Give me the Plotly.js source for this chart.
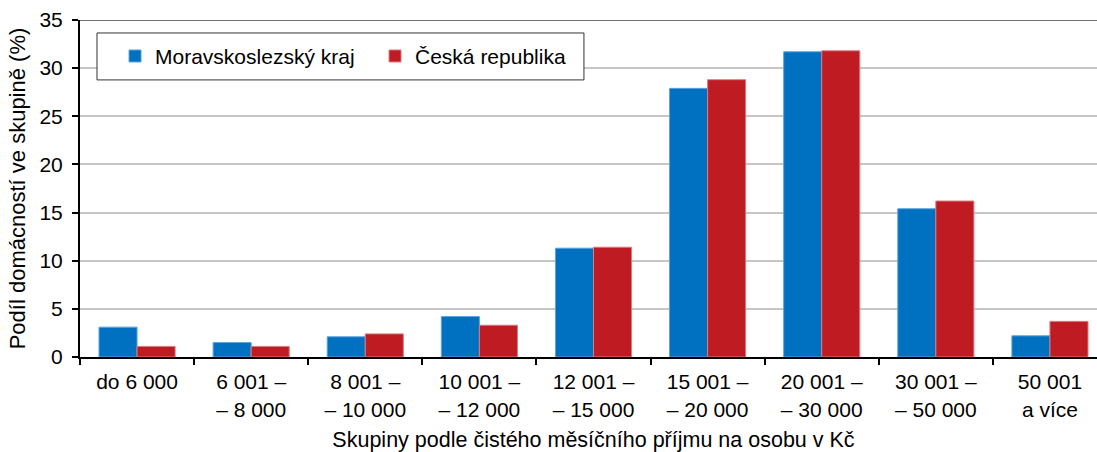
<!DOCTYPE html>
<html>
<head>
<meta charset="utf-8">
<script src="https://cdn.plot.ly/plotly-3.0.1.min.js"></script>
<style>
html,body{margin:0;padding:0;overflow:hidden;background:#fff;}
#chart{width:1110px;height:452px;}
</style>
</head>
<body>
<div id="chart"></div>
<script>
const categories = [
  "do 6 000",
  "6 001 –<br>– 8 000",
  "8 001 –<br>– 10 000",
  "10 001 –<br>– 12 000",
  "12 001 –<br>– 15 000",
  "15 001 –<br>– 20 000",
  "20 001 –<br>– 30 000",
  "30 001 –<br>– 50 000",
  "50 001<br>a více"
];
const seriesNames = ["Moravskoslezský kraj", "Česká republika"];
const msk = [3.1, 1.5, 2.1, 4.2, 11.3, 27.9, 31.7, 15.4, 2.2];
const cr  = [1.1, 1.1, 2.4, 3.3, 11.4, 28.8, 31.8, 16.2, 3.7];
const yTicks = [0, 5, 10, 15, 20, 25, 30, 35];

const FONT = "Liberation Sans, Arial, sans-serif";

const traces = [
  {type: "bar", name: seriesNames[0], x: categories, y: msk,
   marker: {color: "#0070c0", line: {color: "#5fa3d9", width: 1}}, hoverinfo: "y"},
  {type: "bar", name: seriesNames[1], x: categories, y: cr,
   marker: {color: "#be1b23", line: {color: "#dc7a7f", width: 1}}, hoverinfo: "y"}
];

const layout = {
  width: 1110, height: 452,
  margin: {l: 80, r: 3, t: 20, b: 94.5, pad: 0},
  paper_bgcolor: "#fff", plot_bgcolor: "#fff",
  font: {family: FONT, size: 20, color: "#000"},
  barmode: "group", bargap: 0.333, bargroupgap: 0,
  showlegend: true,
  legend: {
    orientation: "h", x: 0.0341, y: 0.953, xanchor: "left", yanchor: "top",
    bgcolor: "rgba(0,0,0,0)", borderwidth: 0,
    font: {family: FONT, size: 21, color: "#000"},
    entrywidth: 215, traceorder: "normal"
  },
  xaxis: {
    type: "category", tickson: "boundaries",
    ticks: "outside", ticklen: 6, tickwidth: 2, tickcolor: "#000",
    showline: true, linecolor: "#000", linewidth: 2,
    showgrid: false, zeroline: false,
    tickfont: {family: FONT, size: 21},
    ticklabelstandoff: 5,
    title: {text: "Skupiny podle čistého měsíčního příjmu na osobu v Kč", font: {family: FONT, size: 21.5}, standoff: 16},
    fixedrange: true
  },
  yaxis: {
    range: [0, 35], tickvals: yTicks, ticktext: yTicks.map(String),
    ticks: "outside", ticklen: 6, tickwidth: 2, tickcolor: "#000",
    showline: true, linecolor: "#000", linewidth: 2,
    showgrid: true, gridcolor: "#c6c6c6", gridwidth: 2,
    zeroline: false,
    tickfont: {family: FONT, size: 21},
    ticklabelstandoff: 5,
    title: {text: "Podíl domácností ve skupině (%)", font: {family: FONT, size: 22}, standoff: 8},
    fixedrange: true
  },
  shapes: [
    {type: "line", xref: "paper", yref: "y", x0: 0, x1: 1, y0: 35, y1: 35,
     line: {color: "#444", width: 1.5}},
    {type: "rect", xref: "paper", yref: "paper", x0: 0.01655, x1: 0.4907, y0: 0.8222, y1: 0.9615,
     layer: "above", fillcolor: "#fff", line: {color: "#333", width: 1}}
  ]
};

Plotly.newPlot("chart", traces, layout, {displayModeBar: false, staticPlot: true});
</script>
</body>
</html>
